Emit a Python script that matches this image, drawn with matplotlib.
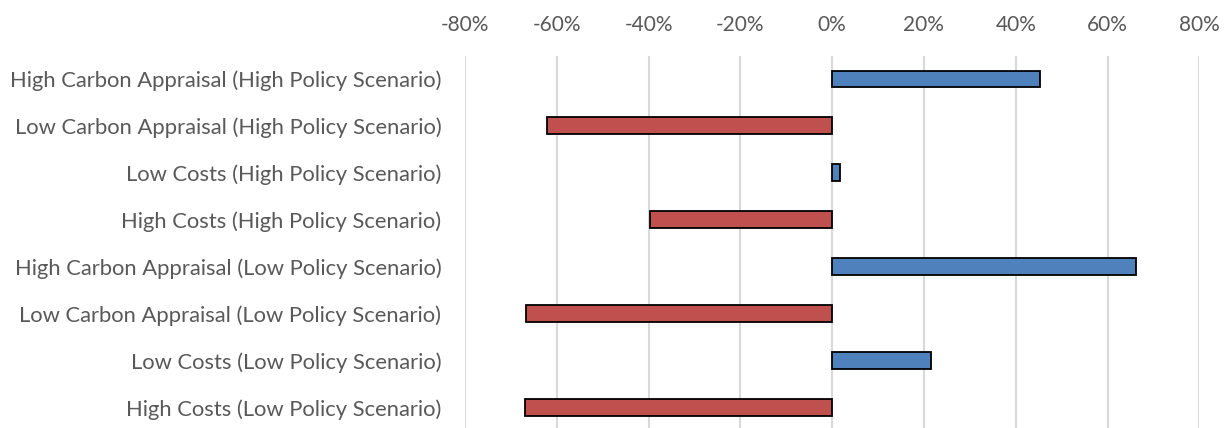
import matplotlib

matplotlib.use("Agg")
import matplotlib.pyplot as plt
from matplotlib.ticker import FuncFormatter, MultipleLocator

plt.rcParams["font.family"] = ["Lato", "DejaVu Sans"]

categories = [
    "High Carbon Appraisal (High Policy Scenario)",
    "Low Carbon Appraisal (High Policy Scenario)",
    "Low Costs (High Policy Scenario)",
    "High Costs (High Policy Scenario)",
    "High Carbon Appraisal (Low Policy Scenario)",
    "Low Carbon Appraisal (Low Policy Scenario)",
    "Low Costs (Low Policy Scenario)",
    "High Costs (Low Policy Scenario)",
]
values = [45.2, -62.1, 1.7, -39.6, 66.2, -66.7, 21.5, -66.9]

BLUE = "#4F81BD"
RED = "#C0504D"
TEXT = "#595959"

fig = plt.figure(figsize=(12.3, 4.28), dpi=100)
W, H = 1230, 428
left, right = 465 / W, 1199.3 / W
top = 55.5 / H
ax = fig.add_axes([left, 0, right - left, 1 - top])

colors = [BLUE if v >= 0 else RED for v in values]
pos = list(range(len(categories)))
ax.barh(pos, values, height=0.36, color=colors, edgecolor="black", linewidth=1.3, zorder=3)

ax.set_xlim(-80, 80)
ax.set_ylim(7.437, -0.5)
ax.set_yticks(pos)
ax.set_yticklabels(categories)
ax.xaxis.set_major_locator(MultipleLocator(20))
ax.xaxis.set_major_formatter(FuncFormatter(lambda v, _: f"{v:.0f}%"))
ax.xaxis.tick_top()
ax.tick_params(axis="x", length=0, pad=15, labelsize=15, labelcolor=TEXT)
ax.tick_params(axis="y", length=0, pad=17, labelsize=15.8, labelcolor=TEXT)
ax.grid(axis="x", color="#D9D9D9", linewidth=1.5, zorder=0)
for s in ax.spines.values():
    s.set_visible(False)

fig.savefig("out.png", dpi=100)
